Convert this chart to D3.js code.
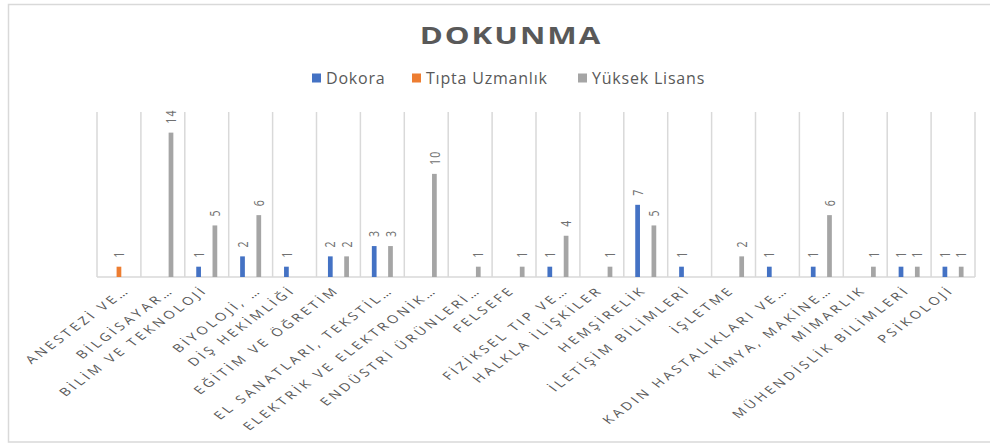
<!DOCTYPE html>
<html>
<head>
<meta charset="utf-8">
<script src="https://cdn.jsdelivr.net/npm/d3@7"></script>
<style>
  body { margin: 0; background: #fff; }
  svg { display: block; font-family: "Open Sans", "Liberation Sans", sans-serif; }
</style>
</head>
<body>
<svg id="chart" width="990" height="443"></svg>
<script>
// --- Données ---
const categories = [
  "ANESTEZİ VE…", "BİLGİSAYAR…", "BİLİM VE TEKNOLOJİ", "BİYOLOJİ, …",
  "DİŞ HEKİMLİĞİ", "EĞİTİM VE ÖĞRETİM", "EL SANATLARI, TEKSTİL…",
  "ELEKTRİK VE ELEKTRONİK…", "ENDÜSTRİ ÜRÜNLERİ…", "FELSEFE",
  "FİZİKSEL TIP VE…", "HALKLA İLİŞKİLER", "HEMŞİRELİK", "İLETİŞİM BİLİMLERİ",
  "İŞLETME", "KADIN HASTALIKLARI VE…", "KİMYA, MAKİNE…", "MİMARLIK",
  "MÜHENDİSLİK BİLİMLERİ", "PSİKOLOJİ"
];
const seriesNames = ["Dokora", "Tıpta Uzmanlık", "Yüksek Lisans"];
const dokora        = [0, 0, 1, 2, 1, 2, 3, 0, 0, 0, 1, 0, 7, 1, 0, 1, 1, 0, 1, 1];
const tiptaUzmanlik = [1, 0, 0, 0, 0, 0, 0, 0, 0, 0, 0, 0, 0, 0, 0, 0, 0, 0, 0, 0];
const yuksekLisans  = [0, 14, 5, 6, 0, 2, 3, 10, 1, 1, 4, 1, 5, 0, 2, 0, 6, 1, 1, 1];
const colors = ["#4472C4", "#ED7D31", "#A5A5A5"];

const seriesValues = [dokora, tiptaUzmanlik, yuksekLisans];

const svg = d3.select("#chart");
const W = 990, H = 443;
const plot = { left: 97, right: 975, top: 112, bottom: 277 };
const stretch = 1.35; // l'image d'origine est étirée horizontalement

// cadre
svg.append("rect")
  .attr("x", 8.5).attr("y", 4.5)
  .attr("width", W).attr("height", H - 5.5)
  .attr("fill", "#fff").attr("stroke", "#D9D9D9").attr("stroke-width", 1.5);

// --- Échelles ---
const x0 = d3.scaleBand().domain(categories).range([plot.left, plot.right]).padding(0);
const groupW = 21;
const x1 = d3.scaleBand().domain(seriesNames)
  .range([x0.bandwidth() / 2 - groupW / 2, x0.bandwidth() / 2 + groupW / 2])
  .paddingInner(0.42).paddingOuter(0);
const y = d3.scaleLinear().domain([0, 16]).range([plot.bottom, plot.top]);

// quadrillage vertical (limites des catégories)
const bounds = categories.map(c => x0(c)).concat([plot.right]);
svg.append("g").selectAll("line")
  .data(bounds)
  .join("line")
  .attr("x1", d => d).attr("x2", d => d)
  .attr("y1", plot.top).attr("y2", plot.bottom)
  .attr("stroke", "#D9D9D9").attr("stroke-width", 1.5);

// axe horizontal
svg.append("line")
  .attr("x1", plot.left).attr("x2", plot.right)
  .attr("y1", plot.bottom).attr("y2", plot.bottom)
  .attr("stroke", "#D9D9D9").attr("stroke-width", 1.5);

// --- Barres ---
const rows = [];
categories.forEach((c, i) => {
  seriesNames.forEach((s, k) => {
    rows.push({ cat: c, series: s, value: seriesValues[k][i], color: colors[k] });
  });
});
const nonZero = rows.filter(d => d.value > 0);

svg.append("g").selectAll("rect")
  .data(nonZero)
  .join("rect")
  .attr("x", d => x0(d.cat) + x1(d.series))
  .attr("y", d => y(d.value))
  .attr("width", x1.bandwidth())
  .attr("height", d => y(0) - y(d.value))
  .attr("fill", d => d.color);

// étiquettes de valeurs (verticales)
svg.append("g").selectAll("text")
  .data(nonZero)
  .join("text")
  .attr("transform", d => {
    const cx = x0(d.cat) + x1(d.series) + x1.bandwidth() / 2;
    return `translate(${cx},${y(d.value) - 9}) scale(${stretch},1) rotate(-90)`;
  })
  .attr("dominant-baseline", "central")
  .attr("text-anchor", "start")
  .attr("font-size", 10.5)
  .attr("letter-spacing", 1)
  .attr("fill", "#707070")
  .text(d => d.value);

// étiquettes des catégories (les libellés tronqués débordent un peu à droite)
svg.append("g").selectAll("text")
  .data(categories)
  .join("text")
  .attr("transform", d => {
    const shift = d.endsWith("…") ? 10 : 0;
    return `translate(${x0(d) + x0.bandwidth() / 2 + 2 + shift},${plot.bottom + 14}) scale(${stretch},1) rotate(-45)`;
  })
  .attr("text-anchor", "end")
  .attr("font-size", 11)
  .attr("letter-spacing", 2.6)
  .attr("fill", "#595959")
  .text(d => d);

// titre
svg.append("text")
  .attr("transform", `translate(511,44) scale(1.33,1)`)
  .attr("text-anchor", "middle")
  .attr("font-size", 23.5)
  .attr("font-weight", "bold")
  .attr("letter-spacing", 1.5)
  .attr("fill", "#595959")
  .text("DOKUNMA");

// légende
const legendX = [312, 412, 578];
const legend = svg.append("g").selectAll("g")
  .data(seriesNames)
  .join("g")
  .attr("transform", (d, i) => `translate(${legendX[i]},78)`);
legend.append("rect")
  .attr("x", 0).attr("y", -4.5)
  .attr("width", 9).attr("height", 9)
  .attr("fill", (d, i) => colors[i]);
legend.append("text")
  .attr("x", 14).attr("y", 0)
  .attr("dominant-baseline", "central")
  .attr("font-size", 16)
  .attr("letter-spacing", 0.8)
  .attr("fill", "#595959")
  .text(d => d);
</script>
</body>
</html>
